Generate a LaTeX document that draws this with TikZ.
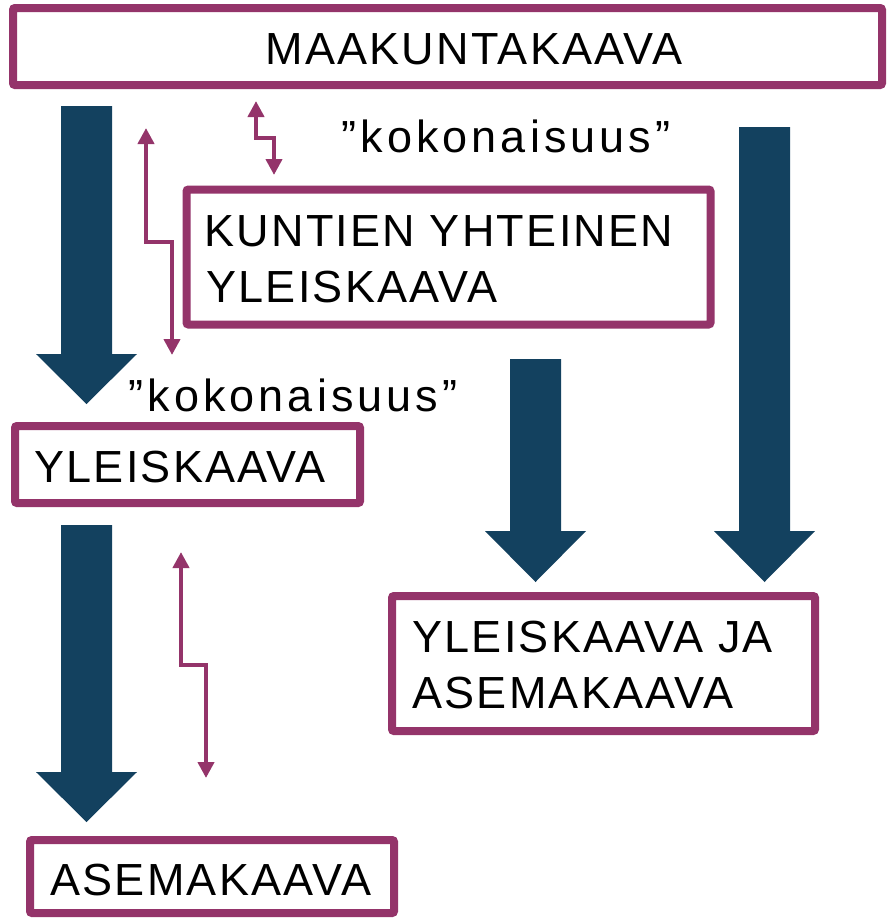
\documentclass[tikz,border=0pt]{standalone}
\usepackage{fontspec}
\setmainfont{Liberation Sans}
\usetikzlibrary{arrows.meta}
\definecolor{plum}{HTML}{94346A}
\definecolor{navy}{HTML}{13415F}
\newcommand\bigtxt{\fontsize{33.75}{40}\selectfont}
\tikzset{
  box/.style={draw=plum, line width=6pt, rectangle, rounded corners=1.5pt, inner sep=0pt, fill=white},
  txt/.style={font=\bigtxt\addfontfeature{LetterSpace=5}, text=black, inner sep=0pt},
  koko/.style={font=\bigtxt\addfontfeature{LetterSpace=9}, text=black, inner sep=0pt},
  blockarrow/.style={fill=navy, draw=none},
  link/.style={draw=plum, line width=3pt, miter limit=10,
    {Triangle[length=12pt,width=12pt]}-{Triangle[length=12pt,width=12pt]}}
}
\begin{document}
\begin{tikzpicture}[x=0.75pt,y=-0.75pt]
\useasboundingbox (0,0) rectangle (889,918);
% big block arrows
\fill[blockarrow] (61,106) -- (112,106) -- (112,354) -- (137,354) -- (86.5,404) -- (36,354) -- (61,354) -- cycle;
\fill[blockarrow] (61,525) -- (112,525) -- (112,772) -- (137,772) -- (86.5,822) -- (36,772) -- (61,772) -- cycle;
\fill[blockarrow] (510,359) -- (561,359) -- (561,531) -- (586,531) -- (535.5,582) -- (485,531) -- (510,531) -- cycle;
\fill[blockarrow] (739,127) -- (790,127) -- (790,531) -- (815,531) -- (764.5,582) -- (714,531) -- (739,531) -- cycle;
% boxes
\node[box, minimum width=869*0.75pt, minimum height=77*0.75pt] (mk) at (447.5,46.5) {};
\node[box, minimum width=524*0.75pt, minimum height=135*0.75pt] (ky) at (448.5,257) {};
\node[box, minimum width=345*0.75pt, minimum height=77*0.75pt] (yl) at (187.5,464.5) {};
\node[box, minimum width=423*0.75pt, minimum height=135*0.75pt] (ya) at (603.5,663.5) {};
\node[box, minimum width=364*0.75pt, minimum height=73*0.75pt] (as) at (212,876.5) {};
% texts
\node[txt, anchor=base] (mkt) at (474,64) {MAAKUNTAKAAVA};
\node[txt, anchor=base west] (kyt1) at (204,246) {KUNTIEN YHTEINEN};
\node[txt, anchor=base west] (kyt2) at (206,302) {YLEISKAAVA};
\node[txt, anchor=base] (ylt) at (180,482) {YLEISKAAVA};
\node[txt, anchor=base west] (yat1) at (412,652) {YLEISKAAVA JA};
\node[txt, anchor=base west] (yat2) at (412,708) {ASEMAKAAVA};
\node[txt, anchor=base] (ast) at (211,895) {ASEMAKAAVA};
\node[koko, anchor=base] (k1) at (506,152) {”kokonaisuus”};
\node[koko, anchor=base] (k2) at (293,411) {”kokonaisuus”};
% thin two-way links
\coordinate (a1) at (256,101); \coordinate (as) at (274,138); \coordinate (a2) at (274,175);
\coordinate (b1) at (146,128); \coordinate (bs) at (172,242); \coordinate (b2) at (172,355);
\coordinate (c1) at (181,552); \coordinate (cs) at (206,665); \coordinate (c2) at (206,778);
\draw[link] (a1) |- (as) -- (a2);
\draw[link] (b1) |- (bs) -- (b2);
\draw[link] (c1) |- (cs) -- (c2);
\end{tikzpicture}
\end{document}
